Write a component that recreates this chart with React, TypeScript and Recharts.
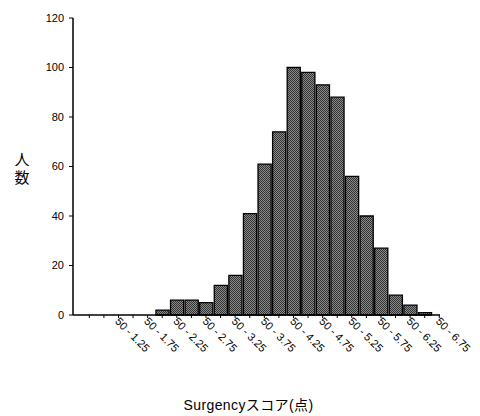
import React from "react";
import { BarChart, Bar, XAxis, YAxis, Label } from "recharts";

// Bin centres of the Surgency score (width 0.25)
const binCenters = [
  0.75, 1.0, 1.25, 1.5, 1.75, 2.0, 2.25, 2.5, 2.75, 3.0, 3.25, 3.5,
  3.75, 4.0, 4.25, 4.5, 4.75, 5.0, 5.25, 5.5, 5.75, 6.0, 6.25, 6.5,
];
// Number of people per bin
const counts = [
  0, 0, 0, 0, 0, 2, 6, 6, 5, 12, 16, 41,
  61, 74, 100, 98, 93, 88, 56, 40, 27, 8, 4, 1,
];
const tickValues = [
  0.75, 1.0, 1.25, 1.5, 1.75, 2.0, 2.25, 2.5, 2.75, 3.0, 3.25, 3.5, 3.75,
  4.0, 4.25, 4.5, 4.75, 5.0, 5.25, 5.5, 5.75, 6.0, 6.25, 6.5, 6.75,
];
const labelTicks = [1.25, 1.75, 2.25, 2.75, 3.25, 3.75, 4.25, 4.75, 5.25, 5.75, 6.25, 6.75];
const tickLabels = [
  "50 - 1.25", "50 - 1.75", "50 - 2.25", "50 - 2.75", "50 - 3.25", "50 - 3.75",
  "50 - 4.25", "50 - 4.75", "50 - 5.25", "50 - 5.75", "50 - 6.25", "50 - 6.75",
];
const yTicks = [0, 20, 40, 60, 80, 100, 120];
const xTitle = "Surgencyスコア(点)";
const yTitle = "人数";

const data = binCenters.map((c, i) => ({ x: c, count: counts[i] }));
const xDomain = [0.47, 6.762];

const FONT = "'Liberation Sans', Arial, 'Noto Sans CJK JP', sans-serif";

const XTick = (props: any) => {
  const { x, y, payload } = props;
  const idx = labelTicks.indexOf(payload.value);
  if (idx < 0) return null;
  return (
    <text
      x={0}
      y={0}
      transform={`translate(${x - 2},${y}) rotate(45)`}
      textAnchor="start"
      dominantBaseline="middle"
      fontSize={11}
      fontFamily={FONT}
      fill="#000"
    >
      {tickLabels[idx]}
    </text>
  );
};

export default function App() {
  return (
    <div style={{ position: "absolute", left: 0, top: 0, width: 480, height: 416, background: "#fff" }}>
      <BarChart
        width={480}
        height={416}
        data={data}
        margin={{ top: 18, right: 40, bottom: 0, left: 0 }}
        barCategoryGap={0}
        barGap={0}
      >
        <defs>
          <pattern id="stip" width="2" height="2" patternUnits="userSpaceOnUse">
            <rect x="0" y="0" width="2" height="2" fill="#8c8c8c" />
            <rect x="0" y="0" width="1" height="1" fill="#303030" />
            <rect x="1" y="1" width="1" height="1" fill="#303030" />
          </pattern>
        </defs>
        <XAxis
          xAxisId="b"
          dataKey="x"
          type="number"
          domain={xDomain}
          allowDataOverflow
          ticks={tickValues}
          interval={0}
          height={101}
          tickSize={3}
          tick={<XTick />}
          axisLine={{ stroke: "#000", strokeWidth: 1.5 }}
          tickLine={{ stroke: "#000" }}
        >
          <Label
            content={(p: any) => {
              const vb = p.viewBox || {};
              return (
                <text
                  x={vb.x + vb.width / 2 - 8}
                  y={410}
                  textAnchor="middle"
                  fontSize={14}
                  fontFamily={FONT}
                  letterSpacing={0.4}
                  fill="#000"
                >
                  {xTitle}
                </text>
              );
            }}
          />
        </XAxis>
        <XAxis
          xAxisId="t"
          dataKey="x"
          type="number"
          orientation="top"
          domain={xDomain}
          allowDataOverflow
          height={0}
          tick={false}
          tickLine={false}
          axisLine={{ stroke: "#000", strokeWidth: 1.2 }}
        />
        <YAxis
          yAxisId="l"
          domain={[0, 120]}
          ticks={yTicks}
          interval={0}
          width={73}
          tickSize={4}
          tickMargin={5}
          tick={{ fontSize: 11, fill: "#000", fontFamily: FONT }}
          axisLine={{ stroke: "#000", strokeWidth: 1.5 }}
          tickLine={{ stroke: "#000" }}
        >
          <Label
            content={() => (
              <text
                x={22}
                y={170}
                textAnchor="middle"
                fontSize={15}
                letterSpacing={3}
                fontFamily="'Noto Sans CJK JP', sans-serif"
                fill="#000"
                style={{ writingMode: "vertical-rl" }}
              >
                {yTitle}
              </text>
            )}
          />
        </YAxis>
        <YAxis
          yAxisId="r"
          orientation="right"
          domain={[0, 120]}
          width={0}
          tick={false}
          tickLine={false}
          axisLine={{ stroke: "#000", strokeWidth: 1.2 }}
        />
        <Bar
          dataKey="count"
          xAxisId="b"
          yAxisId="l"
          barSize={14.6}
          fill="url(#stip)"
          stroke="#000"
          strokeWidth={1.3}
          isAnimationActive={false}
        />
      </BarChart>
    </div>
  );
}
